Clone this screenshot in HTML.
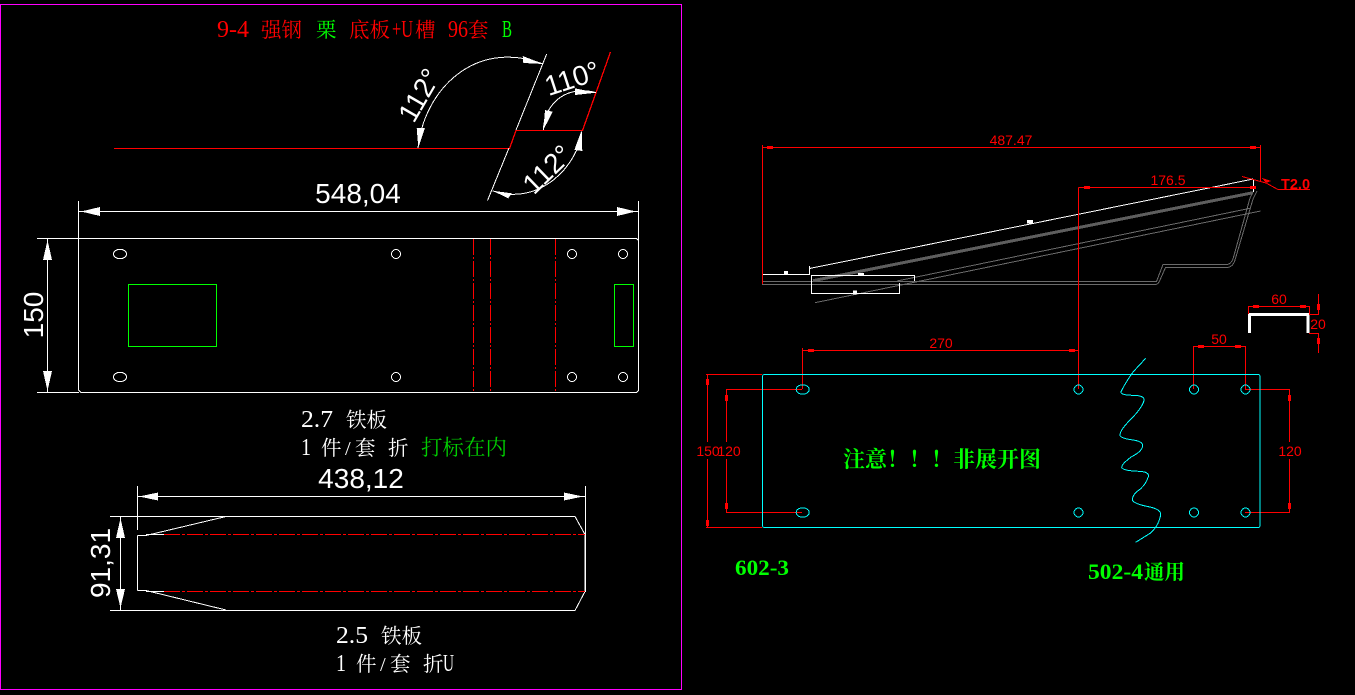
<!DOCTYPE html>
<html><head><meta charset="utf-8"><style>
html,body{margin:0;padding:0;background:#000;width:1355px;height:695px;overflow:hidden}
svg{display:block}
.s{font-family:"Liberation Serif","Noto Serif CJK SC",serif;font-size:20.5px}
.l{font-size:24px}
.d{font-family:"Liberation Sans",sans-serif;font-size:28px;fill:#fff;text-anchor:middle}
.r{font-family:"Liberation Sans",sans-serif;font-size:14px;fill:#f00;text-anchor:middle}
.g{font-family:"Liberation Serif","Noto Serif CJK SC",serif;font-weight:bold;fill:#0f0}
</style></head><body>
<svg width="1355" height="695" viewBox="0 0 1355 695" xmlns="http://www.w3.org/2000/svg">
<rect width="1355" height="695" fill="#000"/>
<rect x="0.5" y="4.5" width="681" height="685" fill="none" stroke="#f0f"/>

<!-- title -->
<g class="s" fill="#f00">
<text class="l" x="217" y="37" textLength="32" lengthAdjust="spacingAndGlyphs">9-4</text>
<text x="261" y="37">强钢</text>
<text x="316" y="37" fill="#0f0">栗</text>
<text x="349" y="37">底板</text>
<text class="l" x="392" y="37" textLength="21" lengthAdjust="spacingAndGlyphs">+U</text>
<text x="415" y="37">槽</text>
<text class="l" x="448" y="37" textLength="20" lengthAdjust="spacingAndGlyphs">96</text>
<text x="468" y="37">套</text>
<text class="l" x="502" y="37" fill="#0f0" textLength="10" lengthAdjust="spacingAndGlyphs">B</text>
</g>

<g shape-rendering="crispEdges" fill="none">
<!-- bend profile -->
<path d="M114 148.5H509.5L516 130.5H582.5L610.5 52" stroke="#f00" stroke-width="1.3"/>
<path d="M546.7 54 516 130M509 148 487.5 200.5" stroke="#fff"/>
<path d="M418 148C424 90 475 38 543 64" stroke="#fff"/>
<path d="M543.3 130C545 100 570 85 596 92.7" stroke="#fff"/>
<path d="M581.7 132C578 165 540 207 492.3 190.7" stroke="#fff"/>

<!-- top plate -->
<path d="M79 238.5H636.5L638.5 240.5V390.5L636.5 392.5H81L78.5 390V240" stroke="#fff"/>
<path d="M78.5 201V240M638.5 201V240M37 238.5H79M37 392.5H79M79 211.5H638M47.5 238V392" stroke="#fff"/>
<ellipse cx="120" cy="254" rx="6.5" ry="4.7" stroke="#fff"/>
<ellipse cx="120" cy="377" rx="6.5" ry="4.7" stroke="#fff"/>
<g stroke="#fff">
<circle cx="396" cy="254" r="4.5"/><circle cx="396" cy="377" r="4.5"/>
<circle cx="572" cy="254" r="4.5"/><circle cx="572" cy="377" r="4.5"/>
<circle cx="623" cy="254" r="4.5"/><circle cx="623" cy="377" r="4.5"/>
</g>
<rect x="128.5" y="284.5" width="88" height="62" stroke="#0f0"/>
<rect x="614.5" y="284.5" width="19" height="62" stroke="#0f0"/>
<path d="M473.5 239V392M555.5 239V392" stroke="#f00" stroke-dasharray="16 2 2 2"/>
<path d="M490.5 239V392" stroke="#f00" stroke-width="1.3" stroke-dasharray="16 2 2 2"/>

<!-- lower plate -->
<path d="M110 516.5H575L585 534.5V591.5L575 610.5H110" stroke="#fff"/>
<path d="M137.5 486V530M585.5 486V592M137.5 535.5V590.5M137 496.5H585M120.5 517V610" stroke="#fff"/>
<path d="M137.5 535.5H146L226 516.5M146 534.5H164M137.5 590.5H146L226 610M146 591.5H164" stroke="#fff"/>
<path d="M164 534.5H585M164 591.5H585" stroke="#f00" stroke-dasharray="16 2 3 2"/>

<!-- side view profile -->
<path d="M762 281.5H1156.5L1163 264.5H1227Q1231 264 1233 259L1250 198 1254 190M762 284.5H1156Q1158.500 284 1160 280L1165.5 267.500H1227Q1233 267 1235 260L1253 199 1257 191" stroke="#6a6a6a"/>
<path d="M813 280.700 1253 192.700" stroke="#5e5e5e" stroke-width="3"/>
<path d="M897 281 1250 208.300M815 302.700 1260.700 211" stroke="#6a6a6a"/>
<path d="M809.500 268.500 1253.300 179M1253.500 179V192M809.500 266V275M762.500 274.500H810M811 275.500H914.500M811.500 275V294M812 293.500H899.500M899.500 283V294M914.500 275V281" stroke="#fff"/>
<path d="M1249.500 333V314.500H1308V333" stroke="#fff" stroke-width="3.200"/>

<!-- right red dims -->
<path d="M762.500 145V284M762.500 147.500H1260.500M1260.500 145V182M1078.500 187.500V389M1078.500 187.500H1256" stroke="#f00"/>
<path d="M1242 176.500 1266 183 1278 189.500H1310" stroke="#f00"/>
<path d="M802.500 348V389M802.500 350.500H1078.500M1193.500 346V389M1245.500 346V389M1193.500 346.500H1245.500" stroke="#f00"/>
<path d="M1248.500 306V314M1309.500 306V314M1248.500 306.500H1309.500M1309 314.500H1319M1309 333.500H1319M1318.500 294V314M1318.500 333V353" stroke="#f00"/>
<path d="M706 374.500H762M706 527.500H762M707.500 374V442M707.500 459V527M726 389.500H802M726 512.500H802M726.500 389V442M726.500 459V512" stroke="#f00"/>
<path d="M1245 389.500H1290M1245 512.500H1290M1289.500 389V442M1289.500 459V512" stroke="#f00"/>

<!-- cyan plate -->
<rect x="762.500" y="374.500" width="497.500" height="153" rx="2" stroke="#0ff"/>
<ellipse cx="802.700" cy="389.500" rx="6.500" ry="4.700" stroke="#0ff"/>
<ellipse cx="802.700" cy="512.500" rx="6.500" ry="4.700" stroke="#0ff"/>
<g stroke="#0ff">
<circle cx="1078.500" cy="389.500" r="4.500"/><circle cx="1078.500" cy="512.500" r="4.500"/>
<circle cx="1194" cy="389.500" r="4.500"/><circle cx="1194" cy="512.500" r="4.500"/>
<circle cx="1245.500" cy="389.500" r="4.500"/><circle cx="1245.500" cy="512.500" r="4.500"/>
</g>
<path transform="translate(1020,340) scale(.33333)" stroke="#0ff" stroke-width="3" d="M377,55 L340,95 Q318,125 303,155 Q300,166 345,166 Q375,168 372,182 Q365,205 335,235 Q300,270 300,285 Q300,295 340,300 Q370,305 368,318 Q365,335 335,350 Q305,372 305,382 Q310,393 360,394 Q388,396 385,410 Q375,440 350,455 Q335,470 338,482 Q345,492 385,500 Q425,508 422,525 Q415,560 390,580 L347,607"/>
</g>

<!-- white arrows -->
<g fill="#fff" shape-rendering="crispEdges">
<polygon points="418.300,148 416.700,128 425,128"/>
<polygon points="543.300,64 522.700,56 523.300,63"/>
<polygon points="543.300,130 545,110 552.700,111.700"/>
<polygon points="596,92.700 575,88.300 575,95"/>
<polygon points="581.700,130 574.300,150 582.300,151"/>
<polygon points="492.300,190.700 511.700,193.300 508.300,198.300"/>
<polygon points="81,211.500 100,207 100,216"/>
<polygon points="636,211.500 617,207 617,216"/>
<polygon points="47.500,240 43,260 52,260"/>
<polygon points="47.500,391 43,371 52,371"/>
<polygon points="139,496.500 158,492.500 158,500.500"/>
<polygon points="583,496.500 564,492.500 564,500.500"/>
<polygon points="120.500,518 116,538 125,538"/>
<polygon points="120.500,608 116,589 125,589"/>
<rect x="784" y="271" width="4" height="3.500"/>
<rect x="853" y="290.500" width="4" height="4"/>
<rect x="858" y="273" width="6" height="2.500"/>
<rect x="1027" y="220" width="6" height="3.500"/>
</g>

<!-- red arrow blocks -->
<g fill="#f00" shape-rendering="crispEdges">
<rect x="767" y="146" width="6" height="3"/><rect x="1250" y="146" width="6" height="3"/>
<rect x="1084" y="186" width="6" height="3"/><rect x="1250" y="186" width="6" height="3"/>
<rect x="808" y="349" width="6" height="3"/><rect x="1069" y="349" width="6" height="3"/>
<rect x="1198" y="345" width="6" height="3"/><rect x="1235" y="345" width="6" height="3"/>
<rect x="1253" y="305" width="6" height="3"/><rect x="1300" y="305" width="6" height="3"/>
<rect x="1317" y="304" width="3" height="6"/><rect x="1317" y="338" width="3" height="6"/>
<rect x="706" y="379" width="3" height="6"/><rect x="706" y="520" width="3" height="6"/>
<rect x="725" y="395" width="3" height="6"/><rect x="725" y="503" width="3" height="6"/>
<rect x="1288" y="395" width="3" height="6"/><rect x="1288" y="503" width="3" height="6"/>
<polygon points="1266,183 1262,178 1271,181"/>
</g>

<!-- big dim text -->
<text class="d" x="358" y="203">548,04</text>
<text class="d" x="361" y="488">438,12</text>
<text class="d" transform="translate(43,315) rotate(-90)">150</text>
<text class="d" transform="translate(110,563) rotate(-90)">91,31</text>
<text class="d" transform="translate(419,95) rotate(-60) translate(0,10)">112°</text>
<text class="d" transform="translate(572,78) rotate(-18) translate(0,10)">110°</text>
<text class="d" transform="translate(547,169) rotate(-44) translate(0,10)">112°</text>

<!-- left notes -->
<g class="s" fill="#fff">
<text class="l" x="301" y="427" textLength="32" lengthAdjust="spacingAndGlyphs">2.7</text>
<text x="346" y="427">铁板</text>
<text class="l" x="301" y="455" textLength="10" lengthAdjust="spacingAndGlyphs">1</text>
<text x="321" y="455">件</text>
<text x="345" y="455">/</text>
<text x="355" y="455">套</text>
<text x="388" y="455">折</text>
<text x="421" y="455" fill="#0c0" font-size="21.500">打标在内</text>
<text class="l" x="336" y="643" textLength="32" lengthAdjust="spacingAndGlyphs">2.5</text>
<text x="381" y="643">铁板</text>
<text class="l" x="336" y="671" textLength="10" lengthAdjust="spacingAndGlyphs">1</text>
<text x="356" y="671">件</text>
<text x="380" y="671">/</text>
<text x="390" y="671">套</text>
<text x="423" y="671">折</text>
<text class="l" x="443" y="671" textLength="11" lengthAdjust="spacingAndGlyphs">U</text>
</g>

<!-- red dim text -->
<text class="r" x="1011" y="145">487.47</text>
<text class="r" x="1168" y="185">176.5</text>
<text class="r" x="941" y="348">270</text>
<text class="r" x="1219" y="344">50</text>
<text class="r" x="1279" y="304">60</text>
<text class="r" x="1318" y="329">20</text>
<text class="r" x="708" y="456">150</text>
<text class="r" x="729" y="456">120</text>
<text class="r" x="1290" y="456">120</text>
<text x="1281" y="189" fill="#f00" font-family="Liberation Sans,sans-serif" font-weight="bold" font-size="15" textLength="29" lengthAdjust="spacingAndGlyphs">T2.0</text>

<!-- green notes -->
<text class="g" x="843" y="467" font-size="22">注意！！！非展开图</text>
<text class="g" x="735" y="575" font-size="22" textLength="54" lengthAdjust="spacingAndGlyphs">602-3</text>
<text class="g" x="1088" y="579" font-size="22" textLength="55" lengthAdjust="spacingAndGlyphs">502-4</text>
<text class="g" x="1144" y="579" font-size="20.500">通用</text>
</svg>
</body></html>
